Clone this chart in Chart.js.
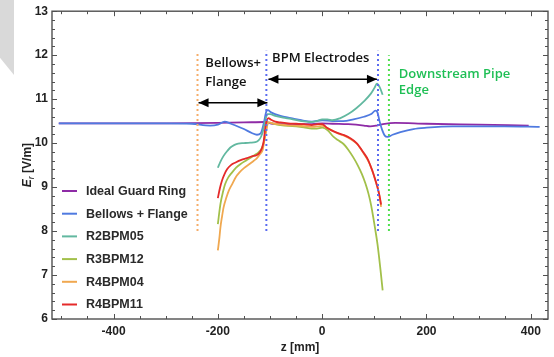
<!DOCTYPE html>
<html>
<head>
<meta charset="utf-8">
<script src="https://cdn.jsdelivr.net/npm/chart.js@4.4.1/dist/chart.umd.min.js"></script>
<style>
  html, body { margin: 0; padding: 0; background: #fff; }
  #wrap { position: relative; width: 554px; height: 357px; }
  #corner { position: absolute; left: 0; top: 0; width: 14px; height: 75px; background: #d9d9d9;
            clip-path: polygon(0 0, 100% 0, 100% 100%, 0 77%); }
  canvas { position: absolute; left: 0; top: 0; }
</style>
</head>
<body>
<div id="wrap">
  <div id="corner"></div>
  <canvas id="grafico" width="554" height="357"></canvas>
</div>
<script>
// --- datos ---
const seriesNames = ['Ideal Guard Ring', 'Bellows + Flange', 'R2BPM05', 'R3BPM12', 'R4BPM04', 'R4BPM11'];
const seriesColors = ['#8e2ba6', '#4f7ae0', '#62b8a0', '#a2c04a', '#f0a850', '#e52a2a'];

const idealX = [-505, -400, -300, -200, -150, -110, -95, -60, -20, 0, 20, 50, 80, 92, 105, 120, 140, 200, 300, 396];
const idealY = [10.45, 10.45, 10.45, 10.46, 10.47, 10.48, 10.44, 10.43, 10.43, 10.45, 10.44, 10.43, 10.40, 10.38, 10.40, 10.44, 10.46, 10.44, 10.42, 10.40];

const bellowsX = [-505, -400, -300, -250, -215, -200, -187, -175, -150, -135, -125, -118, -112, -107, -104, -98, -80, -60, -40, -20, 0, 20, 40, 60, 80, 95, 102, 106, 110, 115, 120, 125, 135, 150, 175, 200, 250, 300, 350, 417];
const bellowsY = [10.45, 10.45, 10.45, 10.44, 10.40, 10.42, 10.49, 10.44, 10.32, 10.23, 10.19, 10.22, 10.45, 10.72, 10.75, 10.70, 10.62, 10.57, 10.52, 10.49, 10.52, 10.50, 10.50, 10.54, 10.60, 10.67, 10.74, 10.70, 10.50, 10.30, 10.17, 10.14, 10.19, 10.25, 10.32, 10.35, 10.38, 10.38, 10.38, 10.37];

const r2X = [-200, -195, -189, -182, -176, -168, -161, -150, -138, -128, -122, -117, -113, -109, -105, -100, -90, -75, -60, -40, -25, -10, 0, 10, 20, 35, 50, 66, 80, 93, 100, 105, 110, 116];
const r2Y = [9.44, 9.58, 9.71, 9.82, 9.90, 9.96, 9.99, 10.0, 10.01, 10.02, 10.06, 10.15, 10.30, 10.52, 10.66, 10.66, 10.62, 10.58, 10.55, 10.50, 10.48, 10.50, 10.54, 10.54, 10.52, 10.57, 10.66, 10.80, 10.95, 11.12, 11.25, 11.35, 11.28, 11.10];

const r3X = [-200, -195, -190, -186, -180, -173, -165, -157, -145, -138, -128, -122, -116, -112, -108, -104, -98, -90, -80, -65, -50, -35, -20, -10, 0, 10, 22, 30, 41, 50, 60, 68, 76, 83, 89, 94, 98, 102, 106, 109, 112, 116];
const r3Y = [8.16, 8.62, 8.9, 9.07, 9.22, 9.33, 9.44, 9.52, 9.61, 9.66, 9.74, 9.79, 9.88, 10.01, 10.25, 10.47, 10.46, 10.43, 10.41, 10.39, 10.38, 10.36, 10.33, 10.33, 10.35, 10.30, 10.14, 10.07, 9.98, 9.85, 9.67, 9.50, 9.30, 9.08, 8.84, 8.58, 8.31, 8.02, 7.71, 7.42, 7.10, 6.65];

const r404X = [-200, -197, -195, -192, -189, -184, -179, -172, -166, -158, -150, -140, -131, -125, -119, -114, -111, -108, -105, -102, -95, -85, -70, -50, -30, -15, 0, 10, 20, 30, 42, 55, 67, 80, 89, 96, 102, 107, 111, 113];
const r404Y = [7.56, 7.85, 8.09, 8.33, 8.54, 8.75, 8.92, 9.08, 9.22, 9.34, 9.43, 9.52, 9.60, 9.66, 9.75, 9.85, 10.05, 10.25, 10.42, 10.47, 10.45, 10.43, 10.41, 10.40, 10.38, 10.37, 10.39, 10.34, 10.28, 10.22, 10.17, 10.09, 9.98, 9.76, 9.58, 9.38, 9.15, 8.95, 8.72, 8.55];

const r411X = [-200, -196, -192, -187, -182, -175, -166, -155, -144, -135, -125, -119, -115, -112, -109, -106, -103, -98, -90, -80, -65, -50, -35, -20, -8, 0, 9, 18, 28, 40, 54, 66, 79, 88, 95, 101, 106, 110, 113];
const r411Y = [8.75, 8.98, 9.15, 9.3, 9.41, 9.5, 9.56, 9.62, 9.66, 9.70, 9.73, 9.80, 9.90, 10.05, 10.35, 10.52, 10.57, 10.53, 10.49, 10.47, 10.45, 10.44, 10.43, 10.41, 10.43, 10.43, 10.35, 10.29, 10.24, 10.19, 10.11, 10.0, 9.79, 9.62, 9.41, 9.2, 9.0, 8.8, 8.6];

// lineas guia punteadas y flechas (coordenadas en unidades de los ejes)
const guideX = [-239, -107, 107, 128];
const guideTop = [12.05, 12.1, 12.1, 12.0];
const guideBottom = 8.0;
const guideColors = ['#f5ad6a', '#5b6cf0', '#5b6cf0', '#4ee04e'];

const arrowX = [[-237, -105], [-103, 105]];
const arrowY = [10.92, 11.45];

const notes = [
  { text: 'Bellows+', x: -224, y: 11.81, color: '#111' },
  { text: 'Flange', x: -224, y: 11.39, color: '#111' },
  { text: 'BPM Electrodes', x: -96, y: 11.92, color: '#111' },
  { text: 'Downstream Pipe', x: 147, y: 11.57, color: '#1fbf55' },
  { text: 'Edge', x: 147, y: 11.19, color: '#1fbf55' }
];

const xLabels = [-400, -200, 0, 200, 400];
const yLabels = [6, 7, 8, 9, 10, 11, 12, 13];

function puntos(xs, ys) {
    return xs.map((x, i) => ({ x: x, y: ys[i] }));
}

const curvas = [
    puntos(idealX, idealY), puntos(bellowsX, bellowsY), puntos(r2X, r2Y),
    puntos(r3X, r3Y), puntos(r404X, r404Y), puntos(r411X, r411Y)
];

const datasets = curvas.map((d, i) => ({
    label: seriesNames[i],
    data: d,
    borderColor: seriesColors[i],
    borderWidth: 1.8,
    pointRadius: 0,
    cubicInterpolationMode: 'monotone',
    order: 6 - i,
    enLeyenda: true
}));

guideX.forEach((x, i) => {
    datasets.push({
        data: [{ x: x, y: guideBottom }, { x: x, y: guideTop[i] }],
        borderColor: guideColors[i],
        borderWidth: 2,
        borderDash: [2, 3],
        pointRadius: 0,
        order: 0
    });
});

arrowX.forEach((xs, i) => {
    datasets.push({
        data: [{ x: xs[0], y: arrowY[i] }, { x: xs[1], y: arrowY[i] }],
        borderColor: '#000',
        borderWidth: 1.5,
        pointRadius: 0,
        order: 0,
        flecha: true
    });
});

const FUENTE = '"Liberation Sans", Arial, sans-serif';

// marco, marcas hacia adentro, titulos, flechas, notas y leyenda
const decoracion = {
    id: 'decoracion',
    afterDatasetsDraw(chart) {
        const ctx = chart.ctx;
        const a = chart.chartArea;
        const xs = chart.scales.x, ys = chart.scales.y;
        ctx.save();

        // puntas de flecha
        chart.data.datasets.forEach((ds, i) => {
            if (!ds.flecha) return;
            const pts = chart.getDatasetMeta(i).data;
            const p0 = pts[0], p1 = pts[1];
            ctx.fillStyle = '#000';
            [[p0, 1], [p1, -1]].forEach(([p, dir]) => {
                ctx.beginPath();
                ctx.moveTo(p.x, p.y);
                ctx.lineTo(p.x + dir * 10, p.y - 4.5);
                ctx.lineTo(p.x + dir * 10, p.y + 4.5);
                ctx.closePath();
                ctx.fill();
            });
        });

        // notas
        ctx.font = '600 13px "Open Sans", Lato, sans-serif';
        ctx.textBaseline = 'middle';
        ctx.textAlign = 'left';
        notes.forEach(n => {
            ctx.fillStyle = n.color;
            ctx.fillText(n.text, xs.getPixelForValue(n.x), ys.getPixelForValue(n.y));
        });

        // leyenda
        ctx.font = 'bold 12.5px ' + FUENTE;
        let fila = 0;
        chart.data.datasets.forEach(ds => {
            if (!ds.enLeyenda) return;
            const yy = 191 + fila * 22.7;
            ctx.strokeStyle = ds.borderColor;
            ctx.lineWidth = 2;
            ctx.beginPath();
            ctx.moveTo(62, yy);
            ctx.lineTo(77, yy);
            ctx.stroke();
            ctx.fillStyle = '#2a2a2a';
            ctx.fillText(ds.label, 86, yy + 0.5);
            fila++;
        });

        // marco
        ctx.strokeStyle = '#505050';
        ctx.lineWidth = 1.4;
        ctx.strokeRect(a.left, a.top, a.right - a.left, a.bottom - a.top);

        // marcas x
        ctx.lineWidth = 1;
        for (let v = -500; v <= 400; v += 50) {
            const px = Math.round(xs.getPixelForValue(v)) + 0.5;
            const largo = v % 200 === 0 ? 5 : 3;
            ctx.beginPath();
            ctx.moveTo(px, a.bottom); ctx.lineTo(px, a.bottom - largo);
            ctx.moveTo(px, a.top); ctx.lineTo(px, a.top + largo);
            ctx.stroke();
        }
        // marcas y
        for (let k = 30; k <= 65; k++) {
            const v = k / 5;
            const py = Math.round(ys.getPixelForValue(v)) + 0.5;
            const largo = k % 5 === 0 ? 5 : 3;
            ctx.beginPath();
            ctx.moveTo(a.left, py); ctx.lineTo(a.left + largo, py);
            ctx.moveTo(a.right, py); ctx.lineTo(a.right - largo, py);
            ctx.stroke();
        }

        // titulos de ejes
        ctx.fillStyle = '#222';
        ctx.textAlign = 'center';
        ctx.font = 'bold 12px ' + FUENTE;
        ctx.fillText('z [mm]', (a.left + a.right) / 2, 348);

        ctx.translate(28, (a.top + a.bottom) / 2);
        ctx.rotate(-Math.PI / 2);
        const parteE = 'E', parteR = 'r', resto = ' [V/m]';
        ctx.font = 'bold italic 12px ' + FUENTE;
        const wE = ctx.measureText(parteE).width;
        ctx.font = 'italic 9px ' + FUENTE;
        const wR = ctx.measureText(parteR).width;
        ctx.font = 'bold 12px ' + FUENTE;
        const wResto = ctx.measureText(resto).width;
        let x0 = -(wE + wR + wResto) / 2;
        ctx.textAlign = 'left';
        ctx.font = 'bold italic 12px ' + FUENTE;
        ctx.fillText(parteE, x0, 0);
        ctx.font = 'italic 9px ' + FUENTE;
        ctx.fillText(parteR, x0 + wE, 3);
        ctx.font = 'bold 12px ' + FUENTE;
        ctx.fillText(resto, x0 + wE + wR, 0);

        ctx.restore();
    }
};

const ctx = document.getElementById('grafico').getContext('2d');
const chart = new Chart(ctx, {
    type: 'line',
    data: { datasets: datasets },
    options: {
        responsive: false,
        animation: false,
        devicePixelRatio: 1,
        layout: { padding: { top: 10, right: 6, left: 0, bottom: 0 } },
        plugins: { legend: { display: false }, tooltip: { enabled: false } },
        scales: {
            x: {
                type: 'linear',
                min: -518,
                max: 433,
                afterBuildTicks: s => { s.ticks = xLabels.map(v => ({ value: v })); },
                afterFit: s => { s.height = 38; },
                grid: { display: false, drawTicks: false },
                border: { display: false },
                ticks: { color: '#222', padding: 5, maxRotation: 0, font: { family: FUENTE, size: 12, weight: 'bold' } }
            },
            y: {
                type: 'linear',
                min: 6,
                max: 13,
                afterBuildTicks: s => { s.ticks = yLabels.map(v => ({ value: v })); },
                afterFit: s => { s.width = 52; },
                grid: { display: false, drawTicks: false },
                border: { display: false },
                ticks: { color: '#222', padding: 4, font: { family: FUENTE, size: 12, weight: 'bold' } }
            }
        }
    },
    plugins: [decoracion]
});
</script>
</body>
</html>
